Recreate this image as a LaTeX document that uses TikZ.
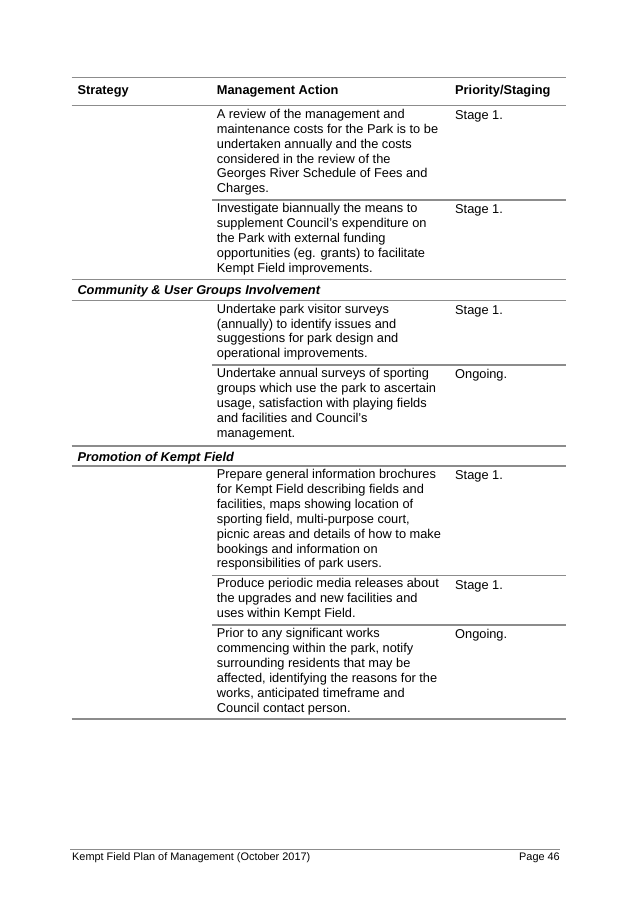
\documentclass[tikz,border=0pt]{standalone}
\usepackage{fontspec}
\setmainfont{Liberation Sans}
\usepackage{tikz}
\definecolor{rulegray}{RGB}{140,140,140}

\begin{document}
\begin{tikzpicture}[x=1pt, y=-1pt,
  rule/.style={draw=rulegray, line width=1.3pt},
  cell/.style={anchor=north west, inner sep=0pt, align=left, yshift=-2.4pt, execute at begin node=\strut, font=\fontsize{12.8}{14.86}\selectfont},
  head/.style={anchor=base west, inner sep=0pt, font=\fontsize{12.8}{14.86}\selectfont\bfseries},
  section/.style={head, font=\fontsize{12.8}{14.86}\selectfont\bfseries\itshape}]
  \useasboundingbox (0,0) rectangle (637,901);

  % table rules
  \draw[rule] (71.5,77.7) -- (566,77.7);
  \draw[rule] (71.5,105.7) -- (566,105.7);
  \draw[rule] (212,200) -- (566,200);
  \draw[rule] (71.5,279.4) -- (566,279.4);
  \draw[rule] (71.5,300.5) -- (566,300.5);
  \draw[rule] (212,365) -- (566,365);
  \draw[rule] (71.5,446) -- (566,446);
  \draw[rule] (71.5,466) -- (566,466);
  \draw[rule] (212,575.2) -- (566,575.2);
  \draw[rule] (212,625) -- (566,625);
  \draw[rule] (71.5,719) -- (566,719);

  % header
  \node (strategy) [head] at (77.3,94.5) {Strategy};
  \node (action) [head] at (216.7,94.5) {Management Action};
  \node (priority) [head] at (455,94.5) {Priority/Staging};

  % budget rows
  \node (review) [cell] at (216.7,106.6) {A review of the management and\\maintenance costs for the Park is to be\\undertaken annually and the costs\\considered in the review of the\\Georges River Schedule of Fees and\\Charges.};
  \node (reviewstage) [cell] at (455,106.6) {Stage 1.};
  \node (funding) [cell] at (216.7,200.9) {Investigate biannually the means to\\supplement Council’s expenditure on\\the Park with external funding\\opportunities (eg. grants) to facilitate\\Kempt Field improvements.};
  \node (fundingstage) [cell] at (455,200.9) {Stage 1.};

  % community
  \node (community) [section] at (77.3,294.3) {Community \& User Groups Involvement};
  \node (visitor) [cell] at (216.7,301.4) {Undertake park visitor surveys\\(annually) to identify issues and\\suggestions for park design and\\operational improvements.};
  \node (visitorstage) [cell] at (455,301.4) {Stage 1.};
  \node (sporting) [cell] at (216.7,365.9) {Undertake annual surveys of sporting\\groups which use the park to ascertain\\usage, satisfaction with playing fields\\and facilities and Council’s\\management.};
  \node (sportingstage) [cell] at (455,365.9) {Ongoing.};

  % promotion
  \node (promotion) [section] at (77.3,461) {Promotion of Kempt Field};
  \node (brochures) [cell] at (216.7,466.9) {Prepare general information brochures\\for Kempt Field describing fields and\\facilities, maps showing location of\\sporting field, multi-purpose court,\\picnic areas and details of how to make\\bookings and information on\\responsibilities of park users.};
  \node (brochurestage) [cell] at (455,466.9) {Stage 1.};
  \node (media) [cell] at (216.7,576.1) {Produce periodic media releases about\\the upgrades and new facilities and\\uses within Kempt Field.};
  \node (mediastage) [cell] at (455,576.1) {Stage 1.};
  \node (notify) [cell] at (216.7,625.9) {Prior to any significant works\\commencing within the park, notify\\surrounding residents that may be\\affected, identifying the reasons for the\\works, anticipated timeframe and\\Council contact person.};
  \node (notifystage) [cell] at (455,625.9) {Ongoing.};

  % footer
  \draw[rule, line width=1.1pt] (70,849.5) -- (560,849.5);
  \node (plan) [anchor=base west, inner sep=0pt, font=\fontsize{10.9}{13}\selectfont] at (72,860) {Kempt Field Plan of Management (October 2017)};
  \node (page) [anchor=base east, inner sep=0pt, font=\fontsize{10.9}{13}\selectfont] at (560,860) {Page 46};
\end{tikzpicture}
\end{document}
